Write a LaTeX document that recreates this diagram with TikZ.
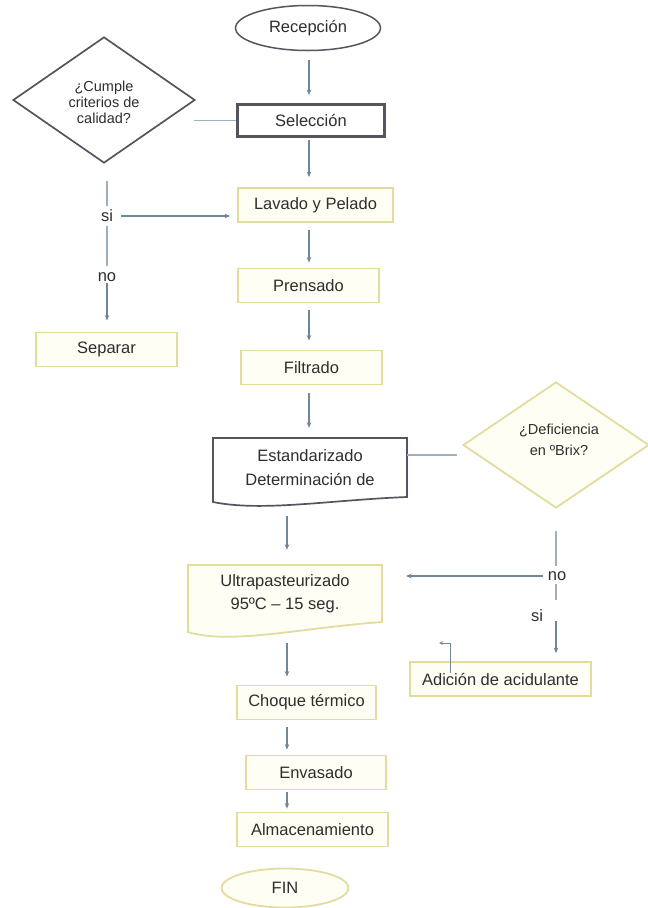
\documentclass[tikz,border=0pt]{standalone}
\usepackage{fontspec}
\setmainfont{Liberation Sans}
\usetikzlibrary{shapes.geometric,arrows.meta,calc}

\definecolor{inkdark}{HTML}{55555F}
\definecolor{boxline}{HTML}{E3DCA0}
\definecolor{boxfill}{HTML}{FFFEF4}
\definecolor{flow}{HTML}{6F8797}
\definecolor{link}{HTML}{9DB0BC}
\definecolor{txt}{HTML}{2E2E2E}

\begin{document}
\begin{tikzpicture}[x=1pt,y=-1pt,
  every node/.style={text=txt, font=\fontsize{16.5}{19}\selectfont},
  darkshape/.style={draw=inkdark, line width=1.7pt, fill=white},
  paleshape/.style={draw=boxline, line width=1.8pt, fill=boxfill},
  procbox/.style={paleshape, rectangle, minimum height=34pt, inner sep=0pt},
  flowarrow/.style={draw=flow, line width=1.1pt, -{Stealth[length=5.5pt,width=4.5pt]},
                    shorten <=8pt, shorten >=8pt},
  plainlink/.style={draw=link, line width=1.1pt},
  ask/.style={font=\fontsize{14.5}{16}\selectfont, align=center},
  branch/.style={font=\fontsize{16.5}{19}\selectfont, inner sep=1pt},
]
\useasboundingbox (0,0) rectangle (648,908);
\fill[white] (0,0) rectangle (648,908);

% ---------- main column ----------
\node[darkshape, ellipse, line width=1.5pt, minimum width=145pt, minimum height=45pt, inner sep=0pt]
  (rec) at (308,28) {Recepción};
\node[darkshape, rectangle, line width=3pt, minimum width=147pt, minimum height=32pt, inner sep=0pt]
  (sel) at (311,120.5) {Selección};
\node[procbox, minimum width=155pt] (lav) at (315.5,205) {Lavado y Pelado};
\node[procbox, minimum width=141pt] (pre) at (308.5,285.5) {Prensado};
\node[procbox, minimum width=141pt] (fil) at (311.5,367.5) {Filtrado};

% Standardising step (document outline)
\draw[darkshape] (213,438) -- (407,438) -- (407,497)
  .. controls (330,500) and (262,512) .. (213,502) -- cycle;
\node[minimum width=194pt, minimum height=60pt, inner sep=0pt, align=center,
      font=\fontsize{16.5}{24}\selectfont] (est) at (310,468)
  {Estandarizado\\Determinación de};

% Ultra-pasteurising step (document outline)
\draw[paleshape] (188,565) -- (382,565) -- (382,622)
  .. controls (300,628) and (230,645) .. (188,632) -- cycle;
\node[minimum width=194pt, minimum height=58pt, inner sep=0pt, align=center,
      font=\fontsize{16.5}{23}\selectfont] (ult) at (285,594)
  {Ultrapasteurizado\\95ºC – 15 seg.};

\node[procbox, minimum width=139pt] (cho) at (306.5,702.5) {Choque térmico};
\node[procbox, minimum width=140pt] (env) at (316,772.5) {Envasado};
\node[procbox, minimum width=151pt] (alm) at (312.5,829.5) {Almacenamiento};
\node[paleshape, ellipse, minimum width=127pt, minimum height=39pt, inner sep=0pt]
  (fin) at (285,888) {FIN};

% ---------- quality decision ----------
\node[darkshape, diamond, minimum width=182pt, minimum height=126pt, inner sep=0pt]
  (dia1) at (104,100) {};
\node[ask] (q1) at (104,102) {¿Cumple\\criterios de\\calidad?};
\node[branch] (si1) at (107,216) {si};
\node[branch] (no1) at (107,277) {no};
\node[procbox, minimum width=141pt] (sep) at (106.5,349.5) {Separar};

% ---------- Brix decision ----------
\node[paleshape, diamond, minimum width=186pt, minimum height=126pt, inner sep=0pt]
  (dia2) at (556,445) {};
\node[ask, font=\fontsize{14.5}{21}\selectfont] (q2) at (559,440) {¿Deficiencia\\en ºBrix?};
\node[branch] (no2) at (557,576) {no};
\node[branch] (si2) at (537,616) {si};
\node[procbox, minimum width=181pt] (adi) at (500.5,679) {Adición de acidulante};

% ---------- column guides ----------
\coordinate (colA) at (309,0);
\coordinate (colB) at (287,0);
\coordinate (nogoal) at (406,575);
\coordinate (sitop) at (556,600);
\coordinate (sibot) at (556,621);

% ---------- main flow ----------
\draw[flowarrow, shorten <=9pt] (rec.south -| colA) -- (sel.north -| colA);
\draw[flowarrow, shorten <=2pt, shorten >=10pt] (sel.south -| colA) -- (lav.north -| colA);
\draw[flowarrow, shorten <=7pt, shorten >=5pt] (lav.south -| colA) -- (pre.north -| colA);
\draw[flowarrow, shorten <=7pt, shorten >=9pt] (pre.south -| colA) -- (fil.north -| colA);
\draw[flowarrow, shorten <=8pt, shorten >=10pt] (fil.south -| colA) -- (est.north -| colA);
\draw[flowarrow, shorten <=18pt, shorten >=15pt] (est.south -| colB) -- (ult.north -| colB);
\draw[flowarrow, shorten <=20pt, shorten >=8pt] (ult.south -| colB) -- (cho.north -| colB);
\draw[flowarrow, shorten <=7pt, shorten >=5pt] (cho.south -| colB) -- (env.north -| colB);
\draw[flowarrow, shorten <=2pt, shorten >=3pt] (env.south -| colB) -- (alm.north -| colB);

% ---------- quality branch ----------
\draw[plainlink, shorten >=-2pt] (sel.west) -- (sel.west -| dia1.east);
\draw[plainlink, shorten <=17pt, shorten >=3pt] (dia1.south -| si1) -- (si1.north);
\draw[flowarrow, shorten <=7pt, shorten >=7pt] (si1.east) -- (si1.east -| lav.west);
\draw[plainlink, shorten <=3pt, shorten >=5pt] (si1.south) -- (no1.north);
\draw[flowarrow, shorten <=0pt, shorten >=11pt] (no1.south) -- (sep.north -| no1);

% ---------- Brix branch ----------
\draw[plainlink] ($(est.east)+(0,-13)$) -- ($(est.east -| dia2.west)+(-5,-13)$);
\draw[plainlink, shorten <=22pt, shorten >=4pt] (dia2.south -| sitop) -- (no2.north -| sitop);
\draw[flowarrow, shorten <=4pt, shorten >=0pt] (no2.west) -- (no2.west -| nogoal);
\draw[plainlink, shorten <=2pt] (no2.south -| sitop) -- (sitop);
\draw[flowarrow, shorten <=0pt, shorten >=8pt] (sibot) -- (adi.north -| sibot);
\draw[flowarrow, shorten <=0pt, shorten >=0pt, -{Stealth[length=4pt,width=3.5pt]}]
  ($(adi.north west)+(41,12)$) |- ($(adi.north west)+(30,-18)$);
\end{tikzpicture}
\end{document}
